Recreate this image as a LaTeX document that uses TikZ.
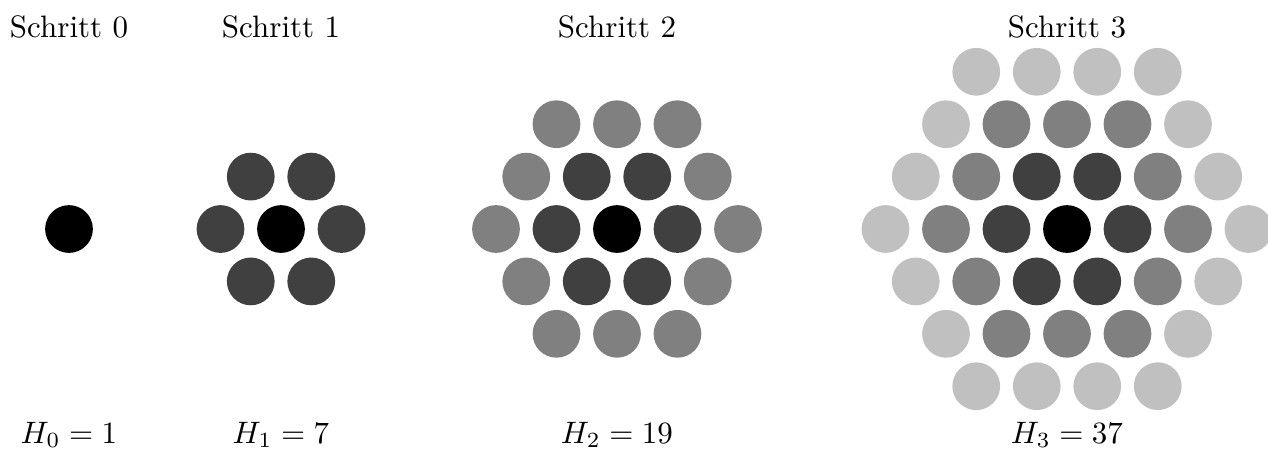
\documentclass[tikz,border=0pt]{standalone}
\usetikzlibrary{positioning}
\definecolor{stufe0}{HTML}{000000}
\definecolor{stufe1}{HTML}{404040}
\definecolor{stufe2}{HTML}{808080}
\definecolor{stufe3}{HTML}{C0C0C0}
\begin{document}
\begin{tikzpicture}[
  x=0.3225pt,y=-0.3225pt,
  punkt/.style={circle,draw=none,inner sep=0pt,minimum size=15.4pt},
  titel/.style={anchor=base,inner sep=0pt},
  formel/.style={anchor=base,inner sep=0pt}
]
\useasboundingbox (0,0) rectangle (1268,448);
\foreach \n/\cx in {0/69,1/281,2/617,3/1067}{
  \node[titel] (titel\n) at (\cx,37) {Schritt \n};
  \pgfmathtruncatemacro{\anzahl}{3*\n*(\n+1)+1}
  \node[formel] (formel\n) at (\cx,443) {$H_\n = \anzahl$};
  \foreach \spalte in {-\n,...,\n}
    \foreach \zeile in {-\n,...,\n}{
      \pgfmathtruncatemacro{\stufe}{max(abs(\spalte),abs(\zeile),abs(\spalte+\zeile))}
      \ifnum\stufe>\n\relax\else
        \node[punkt,fill=stufe\stufe] (p\n-\spalte-\zeile)
          at ({\cx+60.5*(\spalte+\zeile/2)},{229+52.4*\zeile}) {};
      \fi
    }
}
\end{tikzpicture}
\end{document}
